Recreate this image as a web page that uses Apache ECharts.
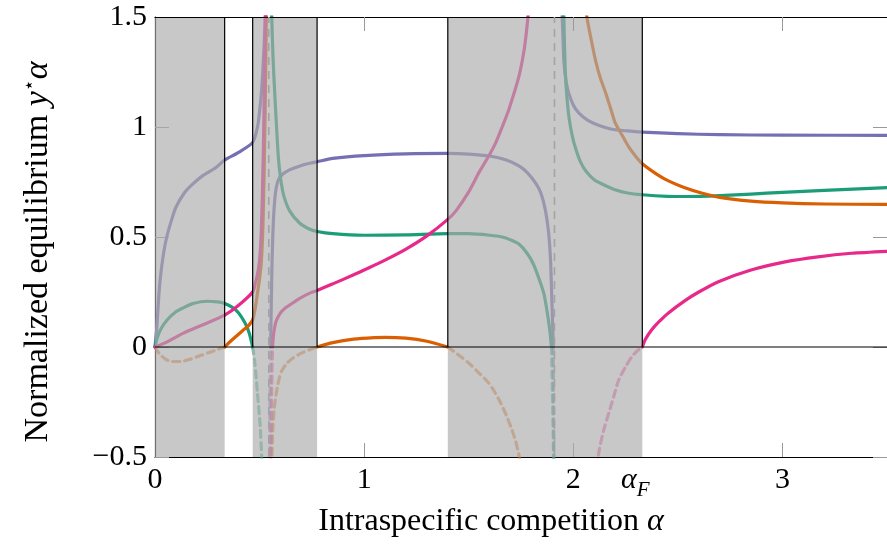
<!DOCTYPE html>
<html>
<head>
<meta charset="utf-8">
<script src="https://cdn.jsdelivr.net/npm/echarts@6/dist/echarts.min.js"></script>
<style>
  html, body { margin: 0; padding: 0; background: #fff; }
  #chart { width: 887px; height: 549px; }
</style>
</head>
<body>
<div id="chart"></div>
<script>
// Axis ranges and ticks
const xMin = 0, xMax = 3.5;
const yMin = -0.5, yMax = 1.5;
const xTickValues = [1, 2, 3];
const alphaF = 2.33;
const xLabelValues = [0, 1, 2, alphaF, 3];

// Infeasible intervals of alpha (shaded) and the two singular values
const infeasible = [[0, 0.333], [0.467, 0.775], [1.40, 2.33]];
const poles = [0.544, 1.910];

// Equilibrium branches: solid where positive, dashed where negative
const purpleSolid = [
  [[0,0],[0.008,0.08],[0.016,0.2],[0.024,0.3],[0.04,0.42],[0.056,0.5],[0.08,0.58],[0.1,0.635],[0.14,0.7],[0.18,0.74],[0.23,0.78],[0.29,0.815],[0.333,0.85],[0.4,0.885],[0.467,0.93],[0.49,1.0],[0.5,1.07],[0.51,1.17],[0.518,1.3],[0.524,1.42],[0.528,1.52],[0.53,1.6]],
  [[0.553,0],[0.556,0.2],[0.56,0.4],[0.565,0.55],[0.571,0.65],[0.579,0.72],[0.59,0.76],[0.61,0.785],[0.643,0.805],[0.69,0.822],[0.74,0.835],[0.775,0.842],[0.85,0.857],[1.0,0.87],[1.2,0.878],[1.4,0.88],[1.5,0.877],[1.6,0.868],[1.68,0.85],[1.74,0.823],[1.78,0.793],[1.82,0.745],[1.845,0.7],[1.867,0.62],[1.882,0.52],[1.891,0.4],[1.899,0.17],[1.904,0]],
  [[1.944,1.6],[1.947,1.5],[1.951,1.4],[1.955,1.3],[1.965,1.21],[1.978,1.155],[2.0,1.1],[2.026,1.064],[2.07,1.03],[2.12,1.008],[2.184,0.99],[2.26,0.982],[2.33,0.977],[2.5,0.97],[2.7,0.965],[3.0,0.963],[3.5,0.962]]
];
const purpleDashed = [
  [[0.547,-0.6],[0.549,-0.35],[0.551,-0.15],[0.553,0]],
  [[1.904,0],[1.906,-0.25],[1.908,-0.6]]
];

const greenSolid = [
  [[0,0],[0.01,0.04],[0.03,0.085],[0.06,0.125],[0.1,0.16],[0.133,0.177],[0.18,0.197],[0.25,0.208],[0.3,0.205],[0.333,0.198],[0.37,0.18],[0.4,0.155],[0.43,0.11],[0.45,0.065],[0.467,0]],
  [[0.556,1.6],[0.558,1.5],[0.565,1.3],[0.571,1.18],[0.58,1.02],[0.59,0.86],[0.6,0.77],[0.615,0.69],[0.643,0.62],[0.69,0.565],[0.74,0.535],[0.775,0.525],[0.85,0.515],[1.0,0.508],[1.2,0.51],[1.4,0.515],[1.5,0.515],[1.6,0.508],[1.66,0.5],[1.7,0.487],[1.74,0.468],[1.78,0.425],[1.81,0.375],[1.84,0.3],[1.86,0.24],[1.875,0.16],[1.887,0.08],[1.896,0]],
  [[1.953,1.6],[1.956,1.45],[1.962,1.25],[1.97,1.13],[1.98,1.04],[1.995,0.96],[2.012,0.9],[2.035,0.84],[2.06,0.8],[2.1,0.76],[2.14,0.74],[2.2,0.715],[2.26,0.7],[2.33,0.692],[2.45,0.685],[2.55,0.684],[2.7,0.688],[2.85,0.695],[3.0,0.703],[3.2,0.712],[3.5,0.724]]
];
const greenDashed = [
  [[0.467,0],[0.476,-0.06],[0.49,-0.21],[0.503,-0.36],[0.51,-0.5],[0.513,-0.6]],
  [[1.896,0],[1.9,-0.2],[1.904,-0.4],[1.907,-0.6]]
];

const orangeSolid = [
  [[0.333,0],[0.36,0.025],[0.39,0.05],[0.42,0.075],[0.445,0.095],[0.467,0.123],[0.48,0.18],[0.49,0.245],[0.5,0.31],[0.509,0.395],[0.516,0.55],[0.522,0.8],[0.527,1.1],[0.531,1.4],[0.533,1.6]],
  [[0.775,0],[0.85,0.02],[0.95,0.036],[1.05,0.043],[1.1,0.044],[1.2,0.04],[1.3,0.026],[1.4,0]],
  [[2.055,1.6],[2.065,1.5],[2.085,1.4],[2.107,1.3],[2.13,1.22],[2.155,1.155],[2.18,1.08],[2.2,1.02],[2.235,0.96],[2.265,0.91],[2.3,0.865],[2.33,0.833],[2.4,0.785],[2.455,0.755],[2.53,0.725],[2.613,0.7],[2.7,0.68],[2.85,0.663],[3.0,0.655],[3.2,0.65],[3.5,0.648]]
];
const orangeDashed = [
  [[0,0],[0.02,-0.03],[0.05,-0.055],[0.08,-0.066],[0.12,-0.066],[0.17,-0.055],[0.22,-0.038],[0.28,-0.018],[0.333,0]],
  [[0.555,-0.6],[0.559,-0.5],[0.563,-0.38],[0.57,-0.28],[0.58,-0.21],[0.592,-0.15],[0.605,-0.11],[0.63,-0.075],[0.66,-0.05],[0.7,-0.028],[0.74,-0.012],[0.775,0]],
  [[1.4,0],[1.45,-0.035],[1.5,-0.073],[1.54,-0.11],[1.583,-0.15],[1.615,-0.19],[1.645,-0.24],[1.675,-0.3],[1.702,-0.364],[1.725,-0.43],[1.742,-0.5],[1.75,-0.54]]
];

const pinkSolid = [
  [[0,0],[0.05,0.02],[0.1,0.045],[0.133,0.062],[0.2,0.09],[0.252,0.11],[0.333,0.145],[0.4,0.19],[0.467,0.25],[0.48,0.29],[0.49,0.33],[0.5,0.395],[0.508,0.52],[0.513,0.68],[0.517,0.85],[0.52,1.0],[0.523,1.2],[0.526,1.38],[0.528,1.5],[0.53,1.6]],
  [[0.562,0],[0.566,0.05],[0.572,0.09],[0.58,0.12],[0.6,0.155],[0.62,0.175],[0.643,0.19],[0.69,0.22],[0.74,0.245],[0.775,0.257],[0.85,0.287],[0.95,0.328],[1.0,0.35],[1.1,0.395],[1.2,0.445],[1.3,0.505],[1.4,0.58],[1.44,0.62],[1.5,0.705],[1.55,0.795],[1.6,0.875],[1.63,0.93],[1.66,1.0],[1.692,1.08],[1.74,1.23],[1.765,1.35],[1.778,1.45],[1.788,1.55],[1.792,1.6]],
  [[2.33,0],[2.345,0.035],[2.375,0.078],[2.41,0.115],[2.455,0.155],[2.536,0.212],[2.6,0.25],[2.694,0.297],[2.85,0.35],[3.013,0.387],[3.17,0.41],[3.33,0.426],[3.5,0.435]]
];
const pinkDashed = [
  [[0.552,-0.6],[0.555,-0.4],[0.558,-0.2],[0.562,0]],
  [[2.11,-0.6],[2.122,-0.48],[2.145,-0.38],[2.17,-0.3],[2.195,-0.22],[2.217,-0.15],[2.25,-0.09],[2.279,-0.045],[2.305,-0.018],[2.33,0]]
];

const colors = { purple: '#7570b3', green: '#1b9e77', orange: '#d95f02', pink: '#e7298a' };
const FONT = 'Liberation Serif';

function branchSeries(branches, color, dashed) {
  return branches.map(data => ({
    type: 'line',
    data: data,
    symbol: 'none',
    smooth: 0.25,
    clip: true,
    silent: true,
    z: 2,
    lineStyle: {
      color: color,
      width: 3.2,
      type: dashed ? [7, 5] : 'solid',
      opacity: dashed ? 0.6 : 1,
      cap: 'round',
      join: 'round'
    }
  }));
}

const series = [].concat(
  branchSeries(purpleDashed, colors.purple, true),
  branchSeries(greenDashed, colors.green, true),
  branchSeries(orangeDashed, colors.orange, true),
  branchSeries(pinkDashed, colors.pink, true),
  branchSeries(purpleSolid, colors.purple, false),
  branchSeries(greenSolid, colors.green, false),
  branchSeries(orangeSolid, colors.orange, false),
  branchSeries(pinkSolid, colors.pink, false)
);

// Translucent shading over the infeasible intervals
series.push({
  type: 'custom',
  silent: true,
  z: 5,
  clip: true,
  data: infeasible.map(r => [r[0], r[1], yMin, yMax]),
  encode: { x: [0, 1], y: [2, 3] },
  renderItem: function (params, api) {
    const a = api.coord([api.value(0), api.value(3)]);
    const b = api.coord([api.value(1), api.value(2)]);
    return {
      type: 'rect',
      shape: { x: a[0], y: a[1], width: b[0] - a[0], height: b[1] - a[1] },
      style: { fill: 'rgba(172,172,172,0.66)' }
    };
  }
});

// Black edges of the intervals above zero
const edges = infeasible.flat().filter(v => v > xMin);
series.push({
  type: 'custom',
  silent: true,
  z: 6,
  data: edges.map(v => [v, 0, yMax]),
  encode: { x: 0, y: [1, 2] },
  renderItem: function (params, api) {
    const a = api.coord([api.value(0), api.value(1)]);
    const b = api.coord([api.value(0), api.value(2)]);
    return {
      type: 'line',
      shape: { x1: a[0], y1: a[1], x2: b[0], y2: b[1] },
      style: { stroke: '#000', lineWidth: 1.2 }
    };
  }
});

// Zero level
series.push({
  type: 'line',
  data: [[xMin, 0], [xMax, 0]],
  symbol: 'none',
  silent: true,
  z: 6,
  lineStyle: { color: '#000', width: 1.2 }
});

// Singular values of alpha
series.push({
  type: 'custom',
  silent: true,
  z: 7,
  data: poles.map(p => [p, yMin, yMax]),
  encode: { x: 0, y: [1, 2] },
  renderItem: function (params, api) {
    const a = api.coord([api.value(0), api.value(1)]);
    const b = api.coord([api.value(0), api.value(2)]);
    return {
      type: 'line',
      shape: { x1: a[0], y1: a[1], x2: b[0], y2: b[1] },
      style: { stroke: '#a3a3a3', lineWidth: 1.6, lineDash: [8, 6] }
    };
  }
});

const tickStyle = { color: '#999', width: 1 };

const option = {
  animation: false,
  backgroundColor: '#fff',
  grid: { left: 155, right: -2, top: 17, bottom: 92 },
  xAxis: [
    {
      type: 'value', min: xMin, max: xMax, position: 'bottom',
      axisLine: { show: true, onZero: false, lineStyle: { color: '#000', width: 1.2 } },
      axisTick: { show: true, inside: true, length: 14, customValues: xTickValues, lineStyle: tickStyle },
      axisLabel: {
        customValues: xLabelValues,
        margin: 8,
        color: '#000',
        fontFamily: FONT,
        fontSize: 30,
        formatter: function (v) {
          if (Math.abs(v - alphaF) < 1e-9) return '{a|α}{f|F}';
          return String(v);
        },
        rich: {
          a: { fontFamily: FONT, fontSize: 30, fontStyle: 'italic', color: '#000', padding: [0, 0, 0, 0] },
          f: { fontFamily: FONT, fontSize: 21, fontStyle: 'italic', color: '#000', verticalAlign: 'bottom', padding: [0, 14, -6, 0] }
        }
      },
      splitLine: { show: false },
      name: 'Intraspecific competition {i|α}',
      nameLocation: 'middle',
      nameGap: 47,
      nameTextStyle: {
        fontFamily: FONT, fontSize: 32, color: '#000', padding: [0, 60, 0, 0],
        rich: { i: { fontFamily: FONT, fontSize: 32, fontStyle: 'italic', color: '#000' } }
      }
    },
    {
      type: 'value', min: xMin, max: xMax, position: 'top', z: 6,
      axisLine: { show: true, onZero: false, lineStyle: { color: '#000', width: 1.2 } },
      axisTick: { show: true, inside: true, length: 14, customValues: xTickValues, lineStyle: tickStyle },
      axisLabel: { show: false },
      splitLine: { show: false }
    }
  ],
  yAxis: [
    {
      type: 'value', min: yMin, max: yMax, interval: 0.5, position: 'left',
      axisLine: { show: true, onZero: false, lineStyle: { color: '#000', width: 1.2 } },
      axisTick: { show: true, inside: true, length: 14, lineStyle: tickStyle },
      axisLabel: {
        margin: 8, color: '#000', fontFamily: FONT, fontSize: 30,
        formatter: function (v) { return v < 0 ? '\u2212' + Math.abs(v) : String(v); }
      },
      splitLine: { show: false },
      name: 'Normalized equilibrium {i|y}{s|⋆}{i|α}',
      nameLocation: 'middle',
      nameRotate: 90,
      nameGap: 100,
      nameTextStyle: {
        fontFamily: FONT, fontSize: 34, color: '#000', padding: [0, 30, 0, 0],
        rich: {
          i: { fontFamily: FONT, fontSize: 34, fontStyle: 'italic', color: '#000' },
          s: { fontFamily: 'DejaVu Sans', fontSize: 19, color: '#000', verticalAlign: 'top' }
        }
      }
    },
    {
      type: 'value', min: yMin, max: yMax, interval: 0.5, position: 'right',
      axisLine: { show: false, onZero: false },
      axisTick: { show: true, inside: true, length: 14, lineStyle: tickStyle },
      axisLabel: { show: false },
      splitLine: { show: false }
    }
  ],
  series: series
};

const chart = echarts.init(document.getElementById('chart'), null, { renderer: 'canvas' });
chart.setOption(option);
</script>
</body>
</html>
